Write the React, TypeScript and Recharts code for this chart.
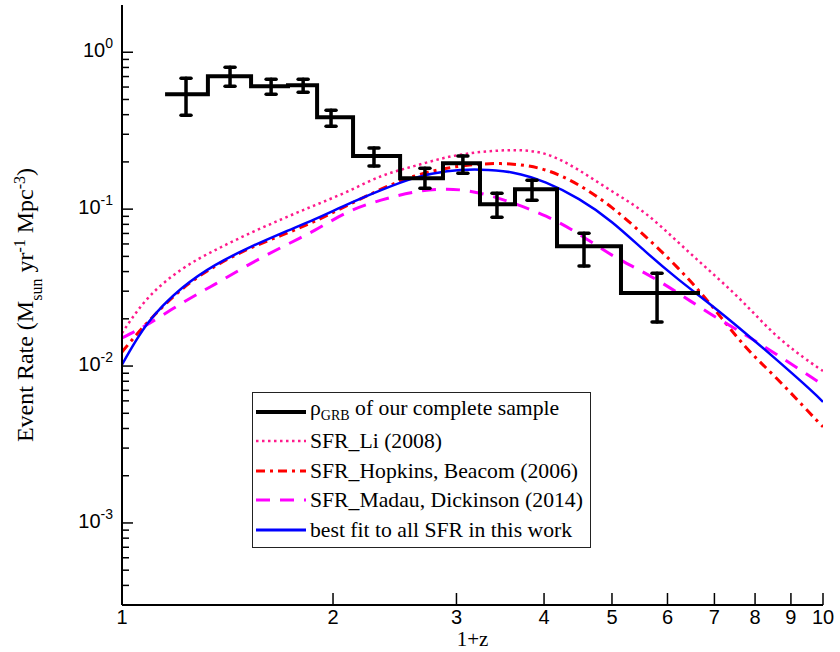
import React from 'react';
import { ComposedChart, Line, Scatter, ErrorBar, XAxis, YAxis, Legend, Label } from 'recharts';

const SERIF = '"Liberation Serif", "Times New Roman", serif';
const SANS = '"Liberation Sans", Arial, sans-serif';

// GRB rate histogram (1+z bin edges, rate per bin, error bars at bin centre)
const binEdges = [1.152, 1.326, 1.528, 1.725, 1.898, 2.136, 2.493, 2.87, 3.241, 3.636, 4.174, 5.15, 6.676];
const binRate = [0.54, 0.703, 0.607, 0.616, 0.385, 0.218, 0.1575, 0.196, 0.1076, 0.134, 0.0581, 0.0292];
const binCenter = [1.234, 1.426, 1.632, 1.813, 1.987, 2.288, 2.705, 3.064, 3.427, 3.845, 4.561, 5.798];
const errLow = [0.397, 0.607, 0.54, 0.556, 0.338, 0.188, 0.136, 0.1695, 0.0889, 0.114, 0.0434, 0.0191];
const errHigh = [0.683, 0.803, 0.673, 0.673, 0.427, 0.245, 0.1824, 0.218, 0.1264, 0.153, 0.0703, 0.0391];

// 1+z sample points shared by the model curves
const zGrid = [1, 1.089, 1.218, 1.358, 1.513, 1.691, 1.885, 2.101, 2.342, 2.609, 2.908, 3.242, 3.613, 4.026, 4.486, 5.0, 5.573, 6.212, 6.922, 7.714, 8.598, 9.581, 10];

// SFR_Li (2008)
const rateLi = [0.0162, 0.0271, 0.0415, 0.0548, 0.0693, 0.0864, 0.106, 0.13, 0.162, 0.188, 0.214, 0.231, 0.2375, 0.224, 0.177, 0.13, 0.0943, 0.0616, 0.0397, 0.0252, 0.0155, 0.0106, 0.0093];
// SFR_Hopkins, Beacom (2006)
const rateHB = [0.0123, 0.0191, 0.0309, 0.0433, 0.0556, 0.0683, 0.0839, 0.106, 0.134, 0.162, 0.1824, 0.1935, 0.1935, 0.1772, 0.1422, 0.1022, 0.0673, 0.0421, 0.0245, 0.0136, 0.0083, 0.005, 0.0041];
// SFR_Madau, Dickinson (2014)
const rateMD = [0.0151, 0.0185, 0.0252, 0.0333, 0.044, 0.0573, 0.0735, 0.0957, 0.1141, 0.1283, 0.1341, 0.1264, 0.1092, 0.0902, 0.0693, 0.0509, 0.0391, 0.0292, 0.0214, 0.016, 0.0118, 0.0086, 0.0076];
// best fit to all SFR in this work
const rateFit = [0.0102, 0.0188, 0.0314, 0.044, 0.0564, 0.0704, 0.0864, 0.1076, 0.1321, 0.1576, 0.1746, 0.1785, 0.1708, 0.1475, 0.1158, 0.0826, 0.054, 0.0358, 0.0245, 0.0165, 0.0109, 0.0071, 0.0059];

const xTicks = [1, 2, 3, 4, 5, 6, 7, 8, 9, 10];
const yTicks: number[] = [];
for (let e = -4; e <= 0; e++) {
  for (let m = 1; m <= 9; m++) {
    const v = m * Math.pow(10, e);
    if (v > 3.5e-4 && v < 1.9) yTicks.push(v);
  }
}

const isMajor = (v: number) => Math.abs(Math.log10(v) - Math.round(Math.log10(v))) < 1e-6;

const stepData = binEdges.map((z, i) => ({ z, v: binRate[Math.min(i, binRate.length - 1)] }));
const errData = binCenter.map((z, i) => ({ z, v: binRate[i], err: [binRate[i] - errLow[i], errHigh[i] - binRate[i]] }));
const toRows = (vs: number[]) => zGrid.map((z, i) => ({ z, v: vs[i] }));

const BottomTick = ({ x, y, payload }: any) => (
  <g>
    <line x1={x} y1={y} x2={x} y2={y - 12} stroke="#000" strokeWidth={1.5} />
    <text x={x} y={y + 19} textAnchor="middle" fontFamily={SANS} fontSize={20} fill="#000">
      {payload.value}
    </text>
  </g>
);

const TopTick = ({ x, y }: any) => <line x1={x} y1={y} x2={x} y2={y + 12} stroke="#000" strokeWidth={1.5} />;

const LeftTick = ({ x, y, payload }: any) => {
  const major = isMajor(payload.value);
  const exp = Math.round(Math.log10(payload.value));
  return (
    <g>
      <line x1={x} y1={y} x2={x + (major ? 11 : 7)} y2={y} stroke="#000" strokeWidth={1.5} />
      {major && (
        <text x={x - 9} y={y + 5} textAnchor="end" fontFamily={SANS} fontSize={20} fill="#000">
          10
          <tspan dy={-9} fontSize={14}>
            {exp === 0 ? '0' : `-${Math.abs(exp)}`}
          </tspan>
        </text>
      )}
    </g>
  );
};

const RightTick = ({ x, y, payload }: any) => {
  const major = isMajor(payload.value);
  return <line x1={x} y1={y} x2={x - (major ? 11 : 7)} y2={y} stroke="#000" strokeWidth={1.5} />;
};

const YTitle = ({ viewBox }: any) => {
  const cx = 33;
  const cy = viewBox.y + viewBox.height / 2;
  return (
    <text x={cx} y={cy} transform={`rotate(-90 ${cx} ${cy})`} textAnchor="middle" fontFamily={SERIF} fontSize={24} fill="#000">
      Event Rate (M
      <tspan baselineShift="sub" fontSize={16}>sun</tspan>
      <tspan> yr</tspan>
      <tspan baselineShift="super" fontSize={16}>-1</tspan>
      <tspan> Mpc</tspan>
      <tspan baselineShift="super" fontSize={16}>-3</tspan>
      <tspan>)</tspan>
    </text>
  );
};

const XTitle = ({ viewBox }: any) => (
  <text x={viewBox.x + viewBox.width / 2} y={646} textAnchor="middle" fontFamily={SERIF} fontSize={21} fill="#000">
    1+z
  </text>
);

const legendRows = [
  { key: 'grb', label: <>ρ<sub style={{ fontSize: 14 }}>GRB</sub> of our complete sample</>, color: '#000000', width: 4, dash: undefined },
  { key: 'li', label: 'SFR_Li (2008)', color: '#ff1a8c', width: 2.5, dash: '2.5 3.5' },
  { key: 'hb', label: 'SFR_Hopkins, Beacom (2006)', color: '#ff0000', width: 3, dash: '9 5 3 5' },
  { key: 'md', label: 'SFR_Madau, Dickinson (2014)', color: '#ff00ff', width: 3, dash: '14 10' },
  { key: 'fit', label: 'best fit to all SFR in this work', color: '#0000ff', width: 3, dash: undefined },
];

const LegendBox = () => (
  <div style={{ border: '1.5px solid #222', background: '#fff', padding: '4px 0 4px 2px', boxSizing: 'border-box', width: 339, height: 156 }}>
    {legendRows.map((r) => (
      <div key={r.key} style={{ display: 'flex', alignItems: 'center', height: 29.5 }}>
        <svg width={52} height={10} style={{ flex: 'none' }}>
          <line x1={1} y1={5} x2={51} y2={5} stroke={r.color} strokeWidth={r.width} strokeDasharray={r.dash} />
        </svg>
        <span style={{ fontFamily: SERIF, fontSize: 21.7, marginLeft: 3, whiteSpace: 'nowrap', lineHeight: '24px' }}>{r.label}</span>
      </div>
    ))}
  </div>
);

export default function App() {
  return (
    <div style={{ position: 'absolute', left: 0, top: 0, width: 840, height: 652, background: '#fff' }}>
      <ComposedChart width={840} height={652} margin={{ top: 5, right: 17, bottom: 0, left: 0 }}>
        <XAxis
          xAxisId="b"
          dataKey="z"
          type="number"
          scale="log"
          domain={[1, 10]}
          allowDataOverflow
          ticks={xTicks}
          interval={0}
          height={47}
          tickSize={0}
          tickMargin={0}
          tick={<BottomTick />}
          axisLine={{ stroke: '#000', strokeWidth: 2 }}
        >
          <Label content={<XTitle />} />
        </XAxis>
        <XAxis
          xAxisId="t"
          orientation="top"
          dataKey="z"
          type="number"
          scale="log"
          domain={[1, 10]}
          allowDataOverflow
          ticks={xTicks.slice(1, -1)}
          interval={0}
          height={0}
          tickSize={0}
          tickMargin={0}
          tick={<TopTick />}
          axisLine={{ stroke: '#000', strokeWidth: 2 }}
        />
        <YAxis
          yAxisId="l"
          type="number"
          scale="log"
          domain={[3e-4, 2]}
          allowDataOverflow
          ticks={yTicks}
          interval={0}
          width={122}
          tickSize={0}
          tickMargin={0}
          tick={<LeftTick />}
          axisLine={{ stroke: '#000', strokeWidth: 2 }}
        >
          <Label content={<YTitle />} />
        </YAxis>
        <YAxis
          yAxisId="r"
          orientation="right"
          type="number"
          scale="log"
          domain={[3e-4, 2]}
          allowDataOverflow
          ticks={yTicks}
          interval={0}
          width={0}
          tickSize={0}
          tickMargin={0}
          tick={<RightTick />}
          axisLine={{ stroke: '#000', strokeWidth: 2 }}
        />
        <Line xAxisId="b" yAxisId="l" data={toRows(rateLi)} dataKey="v" type="natural" stroke="#ff1a8c" strokeWidth={2.5} strokeDasharray="2.5 3.5" dot={false} isAnimationActive={false} />
        <Line xAxisId="b" yAxisId="l" data={toRows(rateHB)} dataKey="v" type="natural" stroke="#ff0000" strokeWidth={3} strokeDasharray="9 5 3 5" dot={false} isAnimationActive={false} />
        <Line xAxisId="b" yAxisId="l" data={toRows(rateMD)} dataKey="v" type="natural" stroke="#ff00ff" strokeWidth={3} strokeDasharray="14 10" dot={false} isAnimationActive={false} />
        <Line xAxisId="b" yAxisId="l" data={toRows(rateFit)} dataKey="v" type="natural" stroke="#0000ff" strokeWidth={2.5} dot={false} isAnimationActive={false} />
        <Line xAxisId="b" yAxisId="l" data={stepData} dataKey="v" type="stepAfter" stroke="#000" strokeWidth={4} dot={false} isAnimationActive={false} />
        <Scatter xAxisId="b" yAxisId="l" data={errData} dataKey="v" shape={() => <g />} isAnimationActive={false}>
          <ErrorBar dataKey="err" direction="y" width={5} stroke="#000" strokeWidth={3.5} strokeLinecap="round" />
        </Scatter>
        <Legend
          layout="horizontal"
          verticalAlign="middle"
          align="center"
          content={<LegendBox />}
          wrapperStyle={{ position: 'absolute', left: 252, top: 392, width: 339, height: 156 }}
        />
      </ComposedChart>
    </div>
  );
}
